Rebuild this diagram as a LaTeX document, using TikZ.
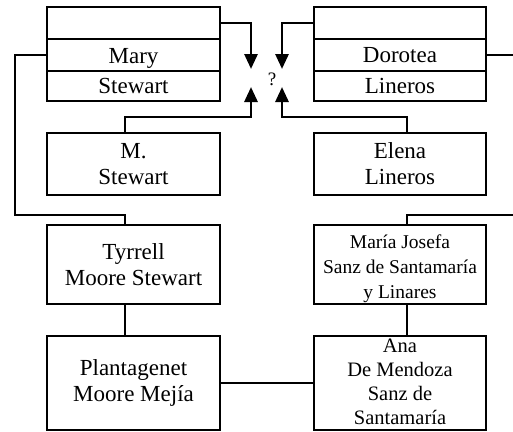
\documentclass[tikz,border=0pt]{standalone}
\usepackage{fontspec}
\setmainfont{Liberation Serif}
\usetikzlibrary{arrows.meta}

% block of centred lines, ink moved down by #1, box size kept
\newcommand{\movedblock}[2]{\raisebox{#1}[\height][\depth]{\begin{tabular}{@{}c@{}}#2\end{tabular}}}
% block of centred lines that takes no vertical room, moved down by #1
\newcommand{\flatblock}[2]{\raisebox{#1}[0pt][0pt]{\begin{tabular}{@{}c@{}}#2\end{tabular}}}

\begin{document}
\begin{tikzpicture}[x=1pt,y=-1pt,
  wire/.style={line width=2.8pt},
  arr/.style={wire,-{Triangle[length=15pt,width=13pt]}},
  person/.style={draw,line width=2.8pt,inner sep=0pt,outer sep=0pt,
    align=center,minimum width=173pt,
    font=\fontsize{23}{26}\selectfont},
]
\useasboundingbox (0,0) rectangle (513,431);

% left family column
\node[person,minimum height=32pt] (lt)    at (133.5,23) {};
\node[person,minimum height=32pt] (lmary) at (133.5,55) {\raisebox{-3pt}[\height][\depth]{Mary}};
\node[person,minimum height=30pt] (lstew) at (133.5,86) {Stewart};
\node[person,minimum height=62pt] (ms)    at (133.5,164) {M.\\Stewart};
\node[person,minimum height=79pt] (tyr)   at (133.5,264.5) {Tyrrell\\Moore Stewart};
\node[person,minimum height=94pt] (pl)    at (133.5,383) {Plantagenet\\Moore Mejía};

% right family column
\node[person,minimum width=172pt,minimum height=32pt] (rt)   at (400,23) {};
\node[person,minimum width=172pt,minimum height=32pt] (rdor) at (400,55) {Dorotea};
\node[person,minimum width=172pt,minimum height=30pt] (rlin) at (400,86) {Lineros};
\node[person,minimum width=172pt,minimum height=62pt] (el)   at (400,164) {Elena\\Lineros};
\node[person,minimum width=172pt,minimum height=79pt,
  font=\fontsize{19.5}{25}\selectfont] (mj) at (400,264.5)
  {\movedblock{-4pt}{María Josefa\\Sanz de Santamaría\\y Linares}};
\node[person,minimum width=172pt,minimum height=94pt,
  font=\fontsize{20.5}{24}\selectfont] (ana) at (400,383)
  {\flatblock{-6pt}{Ana\\De Mendoza\\Sanz de\\Santamaría}};

% unknown link in the middle
\node[font=\fontsize{19}{19}\selectfont,inner sep=0pt] (q) at (272,79) {?};

% line spines and bend points
\coordinate (spineL) at (125,0);
\coordinate (spineR) at (407,0);
\coordinate (tipL1) at (251,69);
\coordinate (tipL2) at (251,87);
\coordinate (tipR1) at (282,69);
\coordinate (tipR2) at (282,87);
\coordinate (bendL) at (15,215);
\coordinate (edgeR1) at (513,55);
\coordinate (edgeR2) at (513,215);

% arrows towards the question mark
\draw[arr] (lt.east) -| (tipL1);
\draw[arr] (ms.north -| spineL) -- ++(0,-16) -| (tipL2);
\draw[arr] (rt.west) -| (tipR1);
\draw[arr] (el.north -| spineR) -- ++(0,-16) -| (tipR2);

% descent lines
\draw[wire] (lmary.west) -| (bendL) -| (tyr.north -| spineL);
\draw[wire] (tyr.south -| spineL) -- (pl.north -| spineL);
\draw[wire] (rdor.east) -- (edgeR1);
\draw[wire] (edgeR2) -| (mj.north -| spineR);
\draw[wire] (mj.south -| spineR) -- (ana.north -| spineR);
\draw[wire] (pl.east) -- (ana.west);
\end{tikzpicture}
\end{document}
